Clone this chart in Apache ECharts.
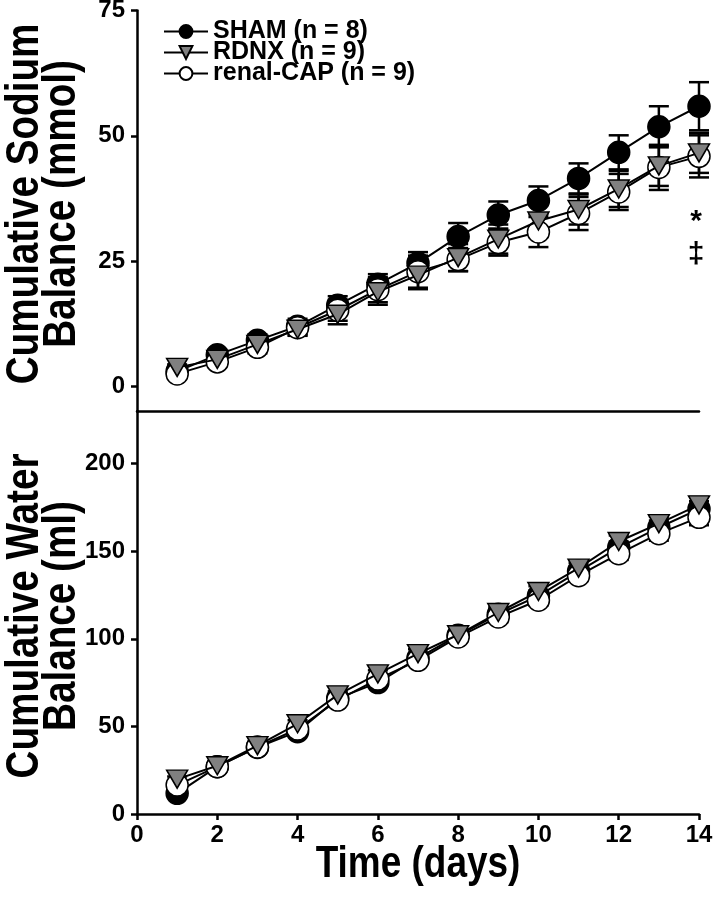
<!DOCTYPE html>
<html>
<head>
<meta charset="utf-8">
<script src="https://cdn.jsdelivr.net/npm/echarts@6/dist/echarts.min.js"></script>
<style>
html,body{margin:0;padding:0;background:#fff;}
#chart{width:713px;height:899px;}
</style>
</head>
<body>
<div id="chart"></div>
<script>
// ---- data ----
var days = [1,2,3,4,5,6,7,8,9,10,11,12,13,14];
var seriesNames = ['SHAM (n = 8)', 'RDNX (n = 9)', 'renal-CAP (n = 9)'];

// Cumulative sodium balance (mmol)
var shamNa    = [3.0, 6.3, 9.2, 12.0, 16.2, 20.4, 24.6, 29.9, 34.2, 37.1, 41.5, 46.7, 51.8, 55.9];
var shamNaErr = [0.8, 1.0, 1.2, 1.5, 1.8, 2.0, 2.2, 2.7, 2.7, 2.8, 3.0, 3.4, 4.1, 4.8];
var rdnxNa    = [3.8, 5.4, 8.4, 11.4, 14.4, 18.9, 22.2, 25.7, 29.4, 33.0, 35.3, 39.4, 44.0, 46.6];
var rdnxNaErr = [0.6, 0.9, 1.0, 1.3, 2.0, 2.6, 2.8, 2.7, 2.9, 3.2, 3.0, 3.6, 4.0, 4.0];
var capNa     = [2.5, 4.9, 7.8, 11.7, 15.2, 19.3, 22.9, 25.3, 28.7, 30.8, 34.5, 38.8, 43.7, 45.9];
var capNaErr  = [0.7, 1.0, 1.2, 1.5, 2.1, 2.5, 3.2, 2.3, 2.6, 3.0, 3.3, 3.6, 4.5, 4.2];

// Cumulative water balance (ml)
var shamH2O    = [11.8, 27.0, 38.0, 47.0, 66.0, 75.0, 89.0, 102.0, 114.0, 124.5, 138.5, 152.0, 163.5, 174.0];
var shamH2OErr = [1.5, 1.5, 1.5, 2.0, 2.0, 2.0, 2.5, 2.5, 3.0, 3.0, 3.0, 3.5, 4.0, 4.5];
var rdnxH2O    = [19.9, 27.5, 39.0, 51.5, 68.0, 80.0, 91.5, 102.3, 115.0, 127.0, 140.3, 155.5, 165.7, 176.4];
var rdnxH2OErr = [1.5, 1.5, 1.5, 2.0, 2.0, 2.0, 2.5, 2.5, 3.0, 3.0, 3.0, 3.5, 4.0, 4.5];
var capH2O     = [16.5, 27.0, 38.3, 48.5, 65.0, 77.0, 87.7, 101.0, 112.4, 122.0, 136.0, 148.5, 160.0, 169.3];
var capH2OErr  = [1.5, 1.5, 1.5, 2.0, 2.0, 2.0, 2.5, 2.5, 3.0, 3.0, 3.0, 3.5, 4.0, 4.5];

// axis ticks and titles
var naTicks = [0,25,50,75];
var h2oTicks = [0,50,100,150,200];
var naTitle = 'Cumulative Sodium\nBalance (mmol)';
var h2oTitle = 'Cumulative Water\nBalance (ml)';
var xTitle = 'Time (days)';

// significance marks (top panel, at day 14)
var sigMarks = [[14, 32.8, '*'], [14, 26.2, '\u2021']];

// ---- chart ----
var FONT = '"Liberation Sans", Arial, Helvetica, sans-serif';
var chart = echarts.init(document.getElementById('chart'), null, {renderer: 'canvas'});

function pairs(vals){ return days.map(function(d,i){ return [d, vals[i]]; }); }
function errData(vals, errs){ return days.map(function(d,i){ return [d, vals[i]-errs[i], vals[i]+errs[i]]; }); }

function errSeries(name, vals, errs, idx){
  return {
    type: 'custom', name: name + ' SEM', xAxisIndex: idx, yAxisIndex: idx, z: 1,
    data: errData(vals, errs),
    renderItem: function(params, api){
      var x = api.value(0);
      var lo = api.coord([x, api.value(1)]);
      var hi = api.coord([x, api.value(2)]);
      var w = 10;
      var st = {stroke: '#000', lineWidth: 2.5};
      return {type: 'group', children: [
        {type: 'line', shape: {x1: lo[0], y1: lo[1], x2: hi[0], y2: hi[1]}, style: st},
        {type: 'line', shape: {x1: hi[0]-w, y1: hi[1], x2: hi[0]+w, y2: hi[1]}, style: st},
        {type: 'line', shape: {x1: lo[0]-w, y1: lo[1], x2: lo[0]+w, y2: lo[1]}, style: st}
      ]};
    },
    silent: true
  };
}

var triPath = 'path://M0,0 L20,0 L10,17 Z';
var styles = {};
styles[seriesNames[0]] = {symbol: 'circle', symbolSize: 22, color: '#000'};
styles[seriesNames[1]] = {symbol: triPath, symbolSize: [21, 18], color: '#808080'};
styles[seriesNames[2]] = {symbol: 'circle', symbolSize: 22, color: '#fff'};

function lineSeries(name, vals, idx, z){
  var s = styles[name];
  return {
    type: 'line', name: name, xAxisIndex: idx, yAxisIndex: idx, z: z,
    data: pairs(vals),
    symbol: s.symbol, symbolSize: s.symbolSize, showAllSymbol: true,
    lineStyle: {color: '#000', width: 2},
    itemStyle: {color: s.color, borderColor: '#000', borderWidth: 1.5},
    emphasis: {disabled: true},
    animation: false
  };
}

var series = [
  errSeries(seriesNames[0], shamNa, shamNaErr, 0),
  errSeries(seriesNames[2], capNa, capNaErr, 0),
  errSeries(seriesNames[1], rdnxNa, rdnxNaErr, 0),
  lineSeries(seriesNames[0], shamNa, 0, 3),
  lineSeries(seriesNames[2], capNa, 0, 4),
  lineSeries(seriesNames[1], rdnxNa, 0, 5),
  errSeries(seriesNames[0], shamH2O, shamH2OErr, 1),
  errSeries(seriesNames[2], capH2O, capH2OErr, 1),
  errSeries(seriesNames[1], rdnxH2O, rdnxH2OErr, 1),
  lineSeries(seriesNames[0], shamH2O, 1, 3),
  lineSeries(seriesNames[2], capH2O, 1, 4),
  lineSeries(seriesNames[1], rdnxH2O, 1, 5),
  {
    type: 'custom', name: 'significance', xAxisIndex: 0, yAxisIndex: 0, z: 6, silent: true,
    data: sigMarks,
    renderItem: function(params, api){
      var p = api.coord([api.value(0), api.value(1)]);
      return {type: 'text', x: p[0] - 3, y: p[1], style: {
        text: sigMarks[params.dataIndex][2], fill: '#000',
        font: 'bold 30px ' + FONT, align: 'center', verticalAlign: 'middle'}};
    }
  }
];

// narrow bold titles (Arial Narrow look): regular bold font compressed along the text
var TITLE_FONT = 'bold 46px ' + FONT;
var NARROW_SCALE = 0.84;
var titleGraphics = [
  {type: 'text', x: 44, y: 204, rotation: Math.PI / 2, scaleX: NARROW_SCALE, silent: true,
   style: {text: naTitle, font: TITLE_FONT, fill: '#000', align: 'center', verticalAlign: 'middle', lineHeight: 37}},
  {type: 'text', x: 44, y: 616, rotation: Math.PI / 2, scaleX: NARROW_SCALE, silent: true,
   style: {text: h2oTitle, font: TITLE_FONT, fill: '#000', align: 'center', verticalAlign: 'middle', lineHeight: 37}},
  {type: 'text', x: 418, y: 865, scaleX: NARROW_SCALE, silent: true,
   style: {text: xTitle, font: 'bold 44px ' + FONT, fill: '#000', align: 'center', verticalAlign: 'middle'}}
];

var axisLineStyle = {color: '#000', width: 2.5};
var option = {
  backgroundColor: '#fff',
  animation: false,
  graphic: titleGraphics,
  legend: {
    data: seriesNames,
    orient: 'vertical', left: 158, top: 14,
    itemWidth: 44, itemHeight: 16, itemGap: -4,
    textStyle: {color: '#000', fontWeight: 'bold', fontSize: 25, fontFamily: FONT, lineHeight: 20},
    selectedMode: false
  },
  grid: [
    {left: 137, right: 14, top: 10.5, height: 401, containLabel: false, outerBoundsMode: 'none'},
    {left: 137, right: 14, top: 411, bottom: 85, containLabel: false, outerBoundsMode: 'none'}
  ],
  xAxis: [
    {type: 'value', gridIndex: 0, min: 0, max: 14, interval: 2,
     axisLine: {show: true, lineStyle: axisLineStyle, onZero: false},
     axisTick: {show: false}, axisLabel: {show: false}, splitLine: {show: false}},
    {type: 'value', gridIndex: 1, min: 0, max: 14, interval: 2,
     axisLine: {show: true, lineStyle: axisLineStyle, onZero: false},
     axisTick: {show: true, length: 6, lineStyle: {color: '#000', width: 2.5}},
     axisLabel: {color: '#000', fontWeight: 'bold', fontSize: 24, fontFamily: FONT, margin: 9},
     splitLine: {show: false}}
  ],
  yAxis: [
    {type: 'value', gridIndex: 0, min: -5, max: 75,
     axisLine: {show: true, lineStyle: axisLineStyle},
     axisTick: {show: true, length: 6, customValues: naTicks, lineStyle: {color: '#000', width: 2.5}},
     axisLabel: {customValues: naTicks, color: '#000', fontWeight: 'bold', fontSize: 24, fontFamily: FONT, margin: 12},
     splitLine: {show: false}},
    {type: 'value', gridIndex: 1, min: 0, max: 230,
     axisLine: {show: true, lineStyle: axisLineStyle},
     axisTick: {show: true, length: 6, customValues: h2oTicks, lineStyle: {color: '#000', width: 2.5}},
     axisLabel: {customValues: h2oTicks, color: '#000', fontWeight: 'bold', fontSize: 24, fontFamily: FONT, margin: 12},
     splitLine: {show: false}}
  ],
  series: series
};
chart.setOption(option);
</script>
</body>
</html>
